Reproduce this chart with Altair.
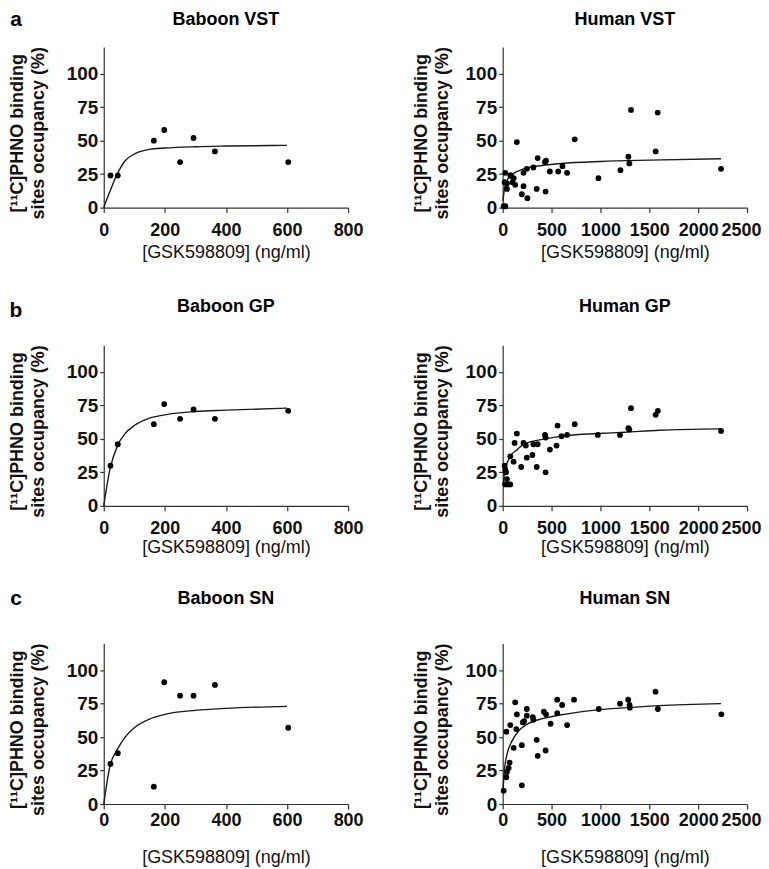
import altair as alt
import pandas as pd

FONT = "Liberation Sans"

# ---------------- data ----------------
bab_x = [22, 46, 164, 198, 250, 294, 364, 604]
bab_vst = [24, 24, 50, 58, 34, 52, 42, 34]
bab_gp = [30, 46, 61, 76, 65, 72, 65, 71]
bab_sn = [30, 38, 13, 91, 81, 81, 89, 57]

bab_vst_fit_x = [0, 20, 44, 70, 100, 150, 200, 300, 400, 600]
bab_vst_fit_y = [0, 12, 25, 35, 40, 43.5, 44.5, 45.5, 46, 46.5]
bab_gp_fit_x = [0, 20, 45, 70, 100, 150, 200, 300, 400, 600]
bab_gp_fit_y = [0, 27, 45, 54, 60, 65.5, 68, 70.5, 71.5, 73]
bab_sn_fit_x = [0, 20, 45, 70, 100, 150, 200, 300, 400, 600]
bab_sn_fit_y = [0, 28, 41, 50, 57, 63.5, 67, 70, 71.5, 73]

hum_vst_x = [10, 27, 145, 737, 358, 443, 433, 314, 247, 213, 27, 78, 112, 128, 213, 44, 44,
             196, 253, 348, 439, 483, 568, 612, 659, 980, 1205, 1313, 1586, 1565, 1286, 1296,
             2234, 20, 100, 85]
hum_vst_y = [1, 1, 49, 51, 37, 35, 34, 30, 29, 26, 26, 24, 22, 17, 16, 18, 14,
             10, 7, 14, 12, 27, 27, 31, 26, 22, 28, 73, 71, 42, 38, 33,
             29, 19, 19, 24]
hum_vst_fit_x = [3, 20, 50, 100, 200, 400, 600, 1000, 1500, 2234]
hum_vst_fit_y = [5, 15, 21, 25, 28.5, 31.5, 33, 34.5, 35.5, 36.5]

hum_gp_x = [20, 27, 34, 44, 54, 78, 27, 78, 112, 145, 122, 213, 237, 189, 247, 304, 348, 314,
            358, 433, 439, 439, 483, 551, 561, 602, 659, 737, 973, 1200, 1286, 1313, 1565,
            1588, 2234, 1296]
hum_gp_y = [30, 27, 25, 20, 16, 16, 16, 37, 33, 54, 47, 47, 45, 29, 36, 38, 29, 46,
            46, 53, 51, 25, 42, 45, 60, 52, 53, 61, 53, 53, 58, 73, 68,
            71, 56, 57]
hum_gp_fit_x = [5, 20, 78, 150, 213, 433, 652, 973, 1250, 1600, 2234]
hum_gp_fit_y = [15, 25, 37, 42, 46, 50, 52.5, 54, 55, 56.5, 57.5]

hum_sn_x = [10, 37, 44, 61, 71, 37, 112, 196, 196, 78, 128, 145, 139, 206, 220, 247, 247, 308,
            314, 348, 358, 422, 443, 439, 490, 558, 558, 608, 659, 730, 983, 1200, 1284, 1298,
            1301, 1564, 1588, 2237]
hum_sn_y = [10, 20, 24, 27, 31, 54, 42, 44, 14, 59, 76, 67, 56, 61, 62, 71, 66, 65,
            63, 48, 36, 69, 67, 40, 60, 78, 68, 74, 59, 78, 71, 75, 78, 74,
            72, 84, 71, 67]
hum_sn_fit_x = [3, 17, 44, 95, 162, 247, 416, 585, 923, 1200, 1600, 2234]
hum_sn_fit_y = [10, 25, 37, 47, 54.5, 59.5, 64, 66.5, 70, 71.7, 73.5, 75]

Y_TITLE = ["[\u00b9\u00b9C]PHNO binding", "sites occupancy (%)"]
X_TITLE = "[GSK598809] (ng/ml)"

W, H = 245, 161

# per-row layout tweaks (pixels relative to each plot area)
ROW = {
    0: dict(title_y=-27, label_pad=9, xtitle_y=45, letter_y=-27),
    1: dict(title_y=-38, label_pad=9, xtitle_y=42, letter_y=-34),
    2: dict(title_y=-45, label_pad=3, xtitle_y=54, letter_y=-45),
}


def panel(px, py, fx, fy, title, xmax, xticks, row, col, letter=None):
    r = ROW[row]
    pts = pd.DataFrame({"x": px, "y": py})
    fit = pd.DataFrame({"x": fx, "y": fy})
    xscale = alt.Scale(domain=[0, xmax], nice=False)
    yscale = alt.Scale(domain=[0, 120], nice=False)
    xaxis = alt.Axis(
        title=X_TITLE, values=xticks, grid=False, labelFlush=False, labelOverlap=False,
        format="d", tickSize=5, labelPadding=r["label_pad"], labelFontSize=18,
        titleY=r["xtitle_y"], titleX=W / 2, titleBaseline="middle",
        titleFontWeight="normal", titleFontSize=18,
        labelAlign={"condition": {"test": "datum.value >= 2500", "value": "right"}, "value": "center"},
        labelOffset={"condition": {"test": "datum.value >= 2500", "value": 14}, "value": 0},
    )
    yaxis = alt.Axis(
        title=Y_TITLE, values=[0, 25, 50, 75, 100], grid=False, tickSize=4,
        labelPadding=2, labelFontSize=19, titleX=(-86 if col == 0 else -81), titleY=86,
        titleBaseline="middle", titleFontWeight="bold", titleFontSize=18,
        titleLineHeight=21,
    )
    line = alt.Chart(fit).mark_line(color="#1a1a1a", strokeWidth=1.4, interpolate="monotone").encode(
        x=alt.X("x:Q", scale=xscale, axis=xaxis),
        y=alt.Y("y:Q", scale=yscale, axis=yaxis),
    )
    dots = alt.Chart(pts).mark_circle(color="black", size=34, opacity=1).encode(
        x=alt.X("x:Q", scale=xscale),
        y=alt.Y("y:Q", scale=yscale),
    )
    ttl = alt.Chart(pd.DataFrame({"t": [title]})).mark_text(
        font=FONT, fontSize=18, fontWeight="bold", color="black",
        align="center", baseline="middle",
    ).encode(x=alt.value(W / 2), y=alt.value(r["title_y"]), text="t:N")
    layers = [line, dots, ttl]
    if letter:
        lab = alt.Chart(pd.DataFrame({"t": [letter]})).mark_text(
            font=FONT, fontSize=21, fontWeight="bold", color="black",
            align="center", baseline="middle",
        ).encode(x=alt.value(-88), y=alt.value(r["letter_y"]), text="t:N")
        layers.append(lab)
    return alt.layer(*layers).properties(width=W, height=H)


bx = [0, 200, 400, 600, 800]
hx = [0, 500, 1000, 1500, 2000, 2500]

panels = [
    panel(bab_x, bab_vst, bab_vst_fit_x, bab_vst_fit_y, "Baboon VST", 800, bx, 0, 0, "a"),
    panel(hum_vst_x, hum_vst_y, hum_vst_fit_x, hum_vst_fit_y, "Human VST", 2500, hx, 0, 1),
    panel(bab_x, bab_gp, bab_gp_fit_x, bab_gp_fit_y, "Baboon GP", 800, bx, 1, 0, "b"),
    panel(hum_gp_x, hum_gp_y, hum_gp_fit_x, hum_gp_fit_y, "Human GP", 2500, hx, 1, 1),
    panel(bab_x, bab_sn, bab_sn_fit_x, bab_sn_fit_y, "Baboon SN", 800, bx, 2, 0, "c"),
    panel(hum_sn_x, hum_sn_y, hum_sn_fit_x, hum_sn_fit_y, "Human SN", 2500, hx, 2, 1),
]

chart = alt.concat(
    *panels, columns=2, spacing={"row": 138, "column": 155}, bounds="flush"
).properties(padding=0).configure_view(
    stroke=None
).configure_axis(
    labelFont=FONT, titleFont=FONT, labelFontWeight="bold",
    labelColor="#111", titleColor="#111", domainColor="#333", tickColor="#333",
    domainWidth=1.2, tickWidth=1.2,
)

chart.save("out.html", embed_options={"renderer": "svg", "actions": False})
